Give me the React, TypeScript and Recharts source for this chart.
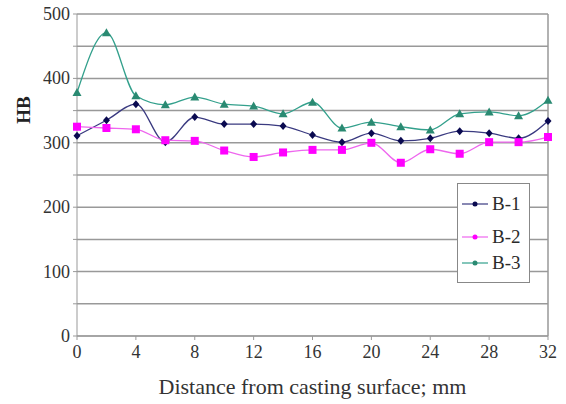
import React from "react";
import {
  LineChart,
  Line,
  XAxis,
  YAxis,
  CartesianGrid,
  Legend,
  ReferenceLine,
} from "recharts";

const distances = [0, 2, 4, 6, 8, 10, 12, 14, 16, 18, 20, 22, 24, 26, 28, 30, 32];
const b1 = [311, 335, 360, 301, 340, 329, 329, 326, 312, 301, 315, 303, 307, 318, 315, 307, 334];
const b2 = [325, 323, 321, 304, 303, 288, 278, 285, 289, 289, 300, 269, 290, 283, 301, 301, 309];
const b3 = [378, 471, 373, 359, 371, 360, 357, 345, 363, 323, 332, 325, 320, 345, 348, 342, 366];

const xTicks = [0, 4, 8, 12, 16, 20, 24, 28, 32];
const yTicks = [0, 50, 100, 150, 200, 250, 300, 350, 400, 450, 500];

const data = distances.map((d, i) => ({ d, b1: b1[i], b2: b2[i], b3: b3[i] }));

const FONT = "'Liberation Serif', 'Times New Roman', serif";

const series = [
  { key: "b1", name: "B-1", line: "#3a3a80", dot: "#0a0a50", shape: "diamond" },
  { key: "b2", name: "B-2", line: "#ee66ee", dot: "#ff00ff", shape: "square" },
  { key: "b3", name: "B-3", line: "#33a08c", dot: "#2a8a72", shape: "triangle" },
];

function Marker({ cx, cy, shape, color }: any) {
  if (cx == null || cy == null) return null;
  if (shape === "square")
    return <rect x={cx - 4} y={cy - 4} width={8} height={8} fill={color} />;
  if (shape === "triangle")
    return <path d={`M${cx},${cy - 4.5}L${cx + 4.5},${cy + 3.5}L${cx - 4.5},${cy + 3.5}Z`} fill={color} />;
  return <path d={`M${cx},${cy - 4}L${cx + 3.5},${cy}L${cx},${cy + 4}L${cx - 3.5},${cy}Z`} fill={color} />;
}

function YTick({ x, y, payload }: any) {
  if (payload.value % 100 !== 0) return null;
  return (
    <text x={x - 1} y={y + 6} textAnchor="end" fontSize={18} fill="#333" fontFamily={FONT}>
      {payload.value}
    </text>
  );
}

const legendTops = [9, 42, 68];

function LegendBox() {
  return (
    <div
      style={{
        position: "absolute",
        left: 457,
        top: 183,
        width: 73,
        height: 100,
        border: "1px solid #888",
        background: "#fff",
        fontFamily: FONT,
        fontSize: 19,
        color: "#2a2a2a",
        boxSizing: "border-box",
      }}
    >
      {series.map((s, i) => (
        <div
          key={s.key}
          style={{ position: "absolute", left: 3, top: legendTops[i], display: "flex", alignItems: "center", lineHeight: "22px" }}
        >
          <svg width={28} height={12}>
            <line x1={1} y1={6} x2={27} y2={6} stroke={s.line} strokeWidth={1.2} />
            <circle cx={14} cy={6} r={2.5} fill={s.dot} />
          </svg>
          <span style={{ marginLeft: 3 }}>{s.name}</span>
        </div>
      ))}
    </div>
  );
}

export default function App() {
  return (
    <div style={{ position: "absolute", left: 0, top: 0, width: 566, height: 404, background: "#fff" }}>
      <LineChart width={566} height={404} data={data} margin={{ top: 14, right: 18, bottom: 0, left: 0 }}>
        <CartesianGrid horizontal vertical={false} stroke="#999" strokeWidth={1.5} />
        <XAxis
          dataKey="d"
          type="number"
          domain={[0, 32]}
          ticks={xTicks}
          height={68}
          stroke="#999"
          tickLine={{ stroke: "#999" }}
          tickSize={4}
          tick={{ fontSize: 18, fill: "#333", fontFamily: FONT, dy: 3 }}
          label={{
            value: "Distance from casting surface; mm",
            position: "insideBottom",
            offset: 10,
            style: { fontSize: 22, fill: "#333", fontFamily: FONT },
          }}
        />
        <YAxis
          type="number"
          domain={[0, 500]}
          ticks={yTicks}
          width={77}
          stroke="#999"
          tickSize={4}
          tick={<YTick />}
          label={{
            value: "HB",
            angle: -90,
            position: "insideTopLeft",
            content: () => (
              <text
                x={30}
                y={110}
                transform="rotate(-90 30 110)"
                textAnchor="middle"
                fontSize={19}
                fontWeight="bold"
                fill="#222"
                fontFamily={FONT}
              >
                HB
              </text>
            ),
          }}
        />
        <ReferenceLine x={32} stroke="#999" strokeWidth={1.5} />
        {series.map((s) => (
          <Line
            key={s.key}
            dataKey={s.key}
            name={s.name}
            type="monotone"
            stroke={s.line}
            strokeWidth={1.3}
            dot={(p: any) => <Marker key={`${s.key}-${p.index}`} {...p} shape={s.shape} color={s.dot} />}
            isAnimationActive={false}
          />
        ))}
        <Legend content={() => null} />
      </LineChart>
      <LegendBox />
    </div>
  );
}
